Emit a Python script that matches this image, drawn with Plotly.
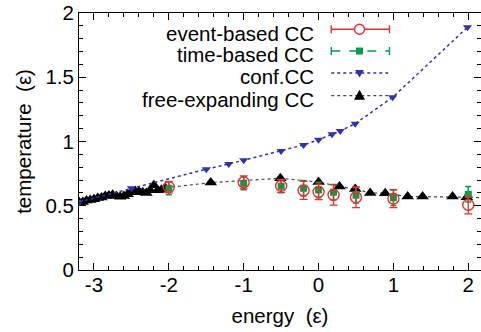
import plotly.graph_objects as go

# ---------------- data ----------------
free_x = [-3.2, -3.15, -3.1, -3.05, -3.0, -2.95, -2.9, -2.85, -2.8, -2.75, -2.7, -2.65,
          -2.6, -2.55, -2.5, -2.45, -2.4, -2.35, -2.3, -2.25, -2.2, -2.15, -2.1, -2.05,
          -1.44, -0.51, 0.0, 0.28, 0.49, 0.69, 0.89, 1.19, 1.39, 1.79, 1.98, 2.3]
free_y = [0.53, 0.53, 0.54, 0.545, 0.55, 0.56, 0.565, 0.575, 0.58, 0.585, 0.575, 0.57,
          0.575, 0.59, 0.605, 0.615, 0.61, 0.605, 0.6, 0.62, 0.66, 0.62, 0.625, 0.64,
          0.68, 0.714, 0.684, 0.65, 0.63, 0.60, 0.597, 0.572, 0.572, 0.572, 0.567, 0.56]

conf_x = [-3.2, -2.5, -1.5, -1.2, -1.0, -0.5, -0.2, 0.0, 0.18, 0.29, 0.49, 0.99, 1.99]
conf_y = [0.53, 0.636, 0.784, 0.825, 0.854, 0.926, 0.973, 1.014, 1.056, 1.082, 1.139, 1.344, 1.889]

event_x = [-2.0, -1.0, -0.5, -0.2, 0.0, 0.2, 0.5, 1.0, 2.0]
event_y = [0.645, 0.682, 0.654, 0.620, 0.608, 0.585, 0.566, 0.555, 0.506]
event_err = [0.045, 0.05, 0.05, 0.07, 0.06, 0.08, 0.08, 0.07, 0.07]

time_x = [-2.0, -1.0, -0.5, -0.2, 0.0, 0.2, 0.5, 1.0, 2.0]
time_y = [0.636, 0.675, 0.652, 0.636, 0.623, 0.605, 0.582, 0.562, 0.589]
time_err = [0.05, 0.05, 0.05, 0.06, 0.06, 0.06, 0.06, 0.06, 0.06]

x_ticks = [-3, -2, -1, 0, 1, 2]
x_labels = ["-3", "-2", "-1", "0", "1", "2"]
y_ticks = [0, 0.5, 1, 1.5, 2]
y_labels = ["0", "0.5", "1", "1.5", "2"]

legend_names = ["event-based CC", "time-based CC", "conf.CC", "free-expanding CC"]

RED = "rgb(235,45,45)"
GREEN = "rgb(0,160,75)"
BLUE = "rgb(50,50,170)"
BLACK = "rgb(0,0,0)"
GREY = "rgb(70,70,70)"
FONT = "Liberation Sans, Arial, sans-serif"
FS = 20.5

fig = go.Figure()

fig.add_trace(go.Scatter(x=free_x, y=free_y, mode="lines+markers",
                         line=dict(color=GREY, width=1.2, dash="dot"),
                         marker=dict(symbol="triangle-up", size=11, color=BLACK),
                         showlegend=False))
fig.add_trace(go.Scatter(x=conf_x, y=conf_y, mode="lines+markers",
                         line=dict(color=BLUE, width=1.5, dash="dot"),
                         marker=dict(symbol="triangle-down", size=8, color=BLUE),
                         showlegend=False))
fig.add_trace(go.Scatter(x=time_x, y=time_y, mode="markers",
                         error_y=dict(type="data", array=time_err, color=GREEN, thickness=1.5, width=3),
                         marker=dict(symbol="square", size=7, color=GREEN),
                         showlegend=False))
fig.add_trace(go.Scatter(x=event_x, y=event_y, mode="markers",
                         error_y=dict(type="data", array=event_err, color=RED, thickness=1.3, width=4),
                         marker=dict(symbol="circle-open", size=11, color=RED, line=dict(width=1.4)),
                         showlegend=False))

# ---------------- custom legend (text left, key right) ----------------
leg_rows = [1.873, 1.704, 1.533, 1.357]
key_x0, key_x1, key_xc = 0.17, 0.947, 0.547
text_x = -0.03
leg_colors = [RED, GREEN, BLUE, GREY]
leg_dash = ["solid", "dash", "dot", "dot"]
shapes = []
annotations = []
for i, name in enumerate(legend_names):
    yv = leg_rows[i]
    annotations.append(dict(x=text_x, y=yv - 0.03, xref="x", yref="y", text=name, showarrow=False,
                            xanchor="right", yanchor="middle", font=dict(size=FS, family=FONT, color="black")))
    shapes.append(dict(type="line", x0=key_x0, x1=key_x1, y0=yv, y1=yv, xref="x", yref="y",
                       line=dict(color=leg_colors[i], width=1.4, dash=leg_dash[i])))
for i in (0, 1):
    yv = leg_rows[i]
    for xe in (key_x0, key_x1):
        shapes.append(dict(type="line", xref="x", yref="y", x0=xe, x1=xe,
                           ysizemode="pixel", yanchor=yv, y0=-4, y1=4,
                           line=dict(color=leg_colors[i], width=1.4)))
shapes.append(dict(type="circle", xref="x", yref="y", xsizemode="pixel", ysizemode="pixel",
                   xanchor=key_xc, yanchor=leg_rows[0], x0=-5, x1=5, y0=-5, y1=5,
                   line=dict(color=RED, width=1.4), fillcolor="white"))
shapes.append(dict(type="rect", xref="x", yref="y", xsizemode="pixel", ysizemode="pixel",
                   xanchor=key_xc, yanchor=leg_rows[1], x0=-3.5, x1=3.5, y0=-3.5, y1=3.5,
                   line=dict(color=GREEN, width=0), fillcolor=GREEN))
shapes.append(dict(type="path", xref="x", yref="y", xsizemode="pixel", ysizemode="pixel",
                   xanchor=key_xc, yanchor=leg_rows[2], path="M -4.5 3 L 4.5 3 L 0 -4.5 Z",
                   line=dict(color=BLUE, width=0), fillcolor=BLUE))
shapes.append(dict(type="path", xref="x", yref="y", xsizemode="pixel", ysizemode="pixel",
                   xanchor=key_xc, yanchor=leg_rows[3], path="M -5.5 -4 L 5.5 -4 L 0 6 Z",
                   line=dict(color=BLACK, width=0), fillcolor=BLACK))

fig.update_layout(
    width=481, height=332,
    margin=dict(l=79, r=0, t=13, b=62),
    plot_bgcolor="white", paper_bgcolor="white",
    font=dict(family=FONT, size=FS, color="black"),
    shapes=shapes, annotations=annotations,
    showlegend=False,
)
fig.update_xaxes(range=[-3.2, 2.17], tickvals=x_ticks, ticktext=x_labels,
                 ticks="inside", ticklen=7, tickwidth=1, tickcolor="black",
                 ticklabelstandoff=-4,
                 minor=dict(dtick=0.2, tick0=0, ticks="inside", ticklen=4, tickcolor="black"),
                 showline=True, linecolor="black", linewidth=1, mirror="ticks",
                 showgrid=False, zeroline=False,
                 title=dict(text="energy \u00a0(\u03b5)", font=dict(size=FS), standoff=14))
fig.update_yaxes(range=[0, 2], tickvals=y_ticks, ticktext=y_labels,
                 ticks="inside", ticklen=7, tickwidth=1, tickcolor="black",
                 minor=dict(dtick=0.1, tick0=0, ticks="inside", ticklen=4, tickcolor="black"),
                 showline=True, linecolor="black", linewidth=1, mirror="ticks",
                 showgrid=False, zeroline=False,
                 title=dict(text="temperature \u00a0(\u03b5)", font=dict(size=FS), standoff=8))

fig.write_html("out.html")
